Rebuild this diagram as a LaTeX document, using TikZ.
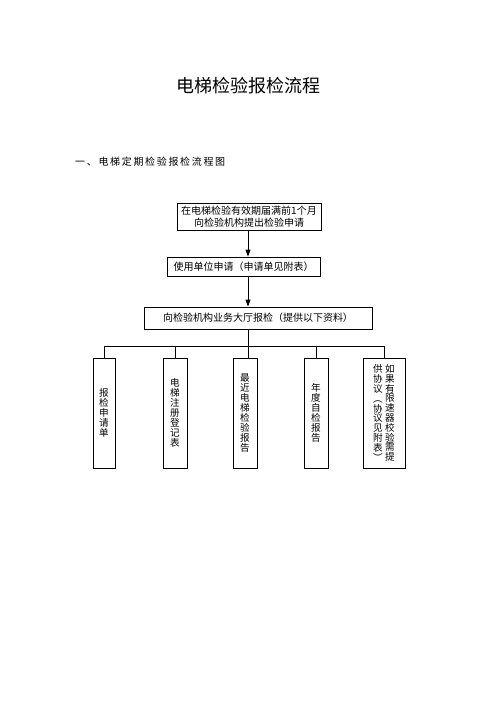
\documentclass[tikz,border=0pt]{standalone}
\usepackage{fontspec}
\setmainfont{Noto Sans CJK SC}
\usetikzlibrary{arrows.meta}
\tikzset{
  box/.style={draw, line width=0.8pt, rectangle, inner sep=0pt, align=center, font=\fontsize{10}{11.5}\selectfont},
  vbox/.style={draw, line width=0.8pt, rectangle, inner sep=0pt, minimum height=110pt, align=center, font=\fontsize{9.6}{10}\selectfont},
  vtext/.style={inner sep=0pt, align=center, font=\fontsize{9.6}{9.8}\selectfont},
  conn/.style={line width=0.8pt},
  arr/.style={line width=0.8pt, -{Triangle[length=7pt,width=5pt]}}
}
\begin{document}
\begin{tikzpicture}[x=1pt,y=-1pt]
\useasboundingbox (0,0) rectangle (496,702);
\fill[white] (0,0) rectangle (496,702);
\node[font=\fontsize{18}{20}\selectfont] (title) at (248,86) {电梯检验报检流程};
\node[anchor=west, inner sep=0pt, font=\fontsize{10}{12}\selectfont] (sub) at (75,162) {一\,、\,电\,梯\,定\,期\,检\,验\,报\,检\,流\,程\,图};
\node[box, minimum width=144pt, minimum height=27pt] (b1) at (249,216.5) {在电梯检验有效期届满前1个月\\向检验机构提出检验申请};
\node[box, minimum width=153pt, minimum height=19pt] (b2) at (243.5,266.5) {使用单位申请（申请单见附表）};
\node[box, minimum width=228pt, minimum height=22pt] (b3) at (258,318) {向检验机构业务大厅报检（提供以下资料）};
\coordinate (ax) at (248,0);
\coordinate (hl) at (0,346);
\node[vbox, minimum width=22pt] (c1) at (104,413) {报\\检\\申\\请\\单};
\node[vbox, minimum width=24pt] (c2) at (175,413) {电\\梯\\注\\册\\登\\记\\表};
\node[vbox, minimum width=24pt] (c3) at (245,413) {最\\近\\电\\梯\\检\\验\\报\\告};
\node[vbox, minimum width=24pt] (c4) at (316,413) {年\\度\\自\\检\\报\\告};
\node[vbox, minimum width=42pt] (c5) at (384,413) {};
\node[vtext, xshift=6pt] (c5r) at (c5.center) {如\\果\\有\\限\\速\\器\\校\\验\\需\\提};
\node[vtext, xshift=-6pt] (c5l) at (c5.center) {供\\协\\议\\︵\\协\\议\\见\\附\\表\\︶};
\draw[arr] (b1.south -| ax) -- (b2.north -| ax);
\draw[arr] (b2.south -| ax) -- (b3.north -| ax);
\draw[conn] (b3.south -| ax) -- (c3.north -| ax);
\draw[conn] (c1.north) -- (c1.north |- hl) -- (c5.north |- hl) -- (c5.north);
\draw[conn] (c2.north) -- (c2.north |- hl);
\draw[conn] (c4.north) -- (c4.north |- hl);
\end{tikzpicture}
\end{document}
